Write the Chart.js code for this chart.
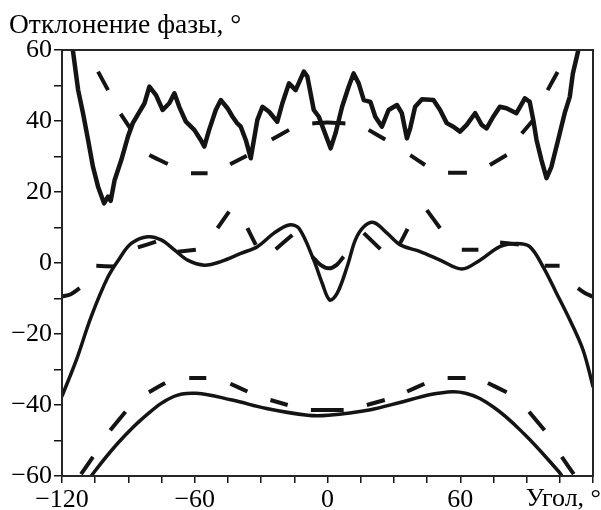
<!DOCTYPE html>
<html>
<head>
<meta charset="utf-8" />
<script src="https://cdn.jsdelivr.net/npm/chart.js@4/dist/chart.umd.min.js"></script>
<style>
  html, body { margin: 0; padding: 0; background: #fff; }
  #wrap { width: 601px; height: 510px; }
</style>
</head>
<body>
<div id="wrap"><canvas id="myChart"></canvas></div>

<script>
// axis ticks
const xTicks = [-120, -60, 0, 60];
const yTicks = [-60, -40, -20, 0, 20, 40, 60];

// upper noisy solid curve
const topSolidX = [-115.8, -115, -112.7, -110.5, -108.2, -106, -103.7, -101, -99.2, -98, -96.2, -93.2, -90.2, -88, -85, -82.7,
  -80.5, -77.5, -74.5, -71.5, -69.2, -67, -64, -60.2, -57.2, -55.7, -53.5, -50.5, -48.2, -45.2, -42.9, -41, -39.2, -36.9,
  -34.7, -31.7, -29.4, -26.4, -22.7, -20.4, -17.4, -14.4, -10.7, -9.1, -6.2, -3.9, -1.7, 1.4, 3.6, 6.6, 9.6, 11.8, 14.1,
  16.4, 19.4, 21.6, 24.6, 27.6, 31.4, 33.6, 35.9, 37.4, 39.6, 42.7, 47.9, 50.9, 53.9, 56.9, 59.9, 62.9, 66.7, 69.7, 71.9,
  74.9, 77.9, 80.9, 85.4, 89.2, 91.4, 93, 94.5, 96.7, 99, 101.2, 104.2, 107.2, 109.5, 110.9, 113.2, 113.8];
const topSolidY = [62, 59.5, 48.7, 42.2, 34.6, 27.1, 21.5, 16.8, 18.7, 17.5, 23.4, 29, 35.6, 39.4, 42.6, 45,
  49.7, 47.3, 43.1, 45, 47.8, 44, 39.8, 37.5, 34.6, 32.8, 37.5, 43.1, 45.9, 43.6, 41.2, 39.5, 38.4, 34.6,
  29.5, 40.3, 44, 42.6, 39.8, 45, 50.6, 48.7, 53.9, 52.5, 43.1, 41.2, 37.5, 32.3, 36.5, 44, 49.7, 53.4, 50.6,
  45.9, 45.4, 41.2, 38.4, 43.1, 44.5, 42.2, 35.1, 38, 44, 46.1, 45.9, 43.1, 39.4, 38.4, 37, 38.9, 42.2, 38.9, 37.9,
  41.2, 44, 43.6, 42.2, 46.4, 45.4, 40.3, 34.6, 29, 23.9, 27.1, 34.6, 42.2, 46.8, 53.4, 59.5, 62];

// middle solid curve
const midSolidX = [-120, -113.5, -106.8, -99.2, -94, -88.7, -81.2, -75.2, -69.2, -63.2, -55.7, -48.2, -39.2, -31.7, -24.2,
  -17.4, -12.9, -6.2, -2.4, 1, 4.4, 8.9, 12.6, 16.4, 20.9, 26.9, 32.9, 41.9, 50.9, 60.7, 68.9, 77.9, 85.5, 91.4, 97.4,
  103.5, 109.5, 115.5, 120];
const midSolidY = [-37.5, -27.3, -15.1, -3.9, 1.3, 5.5, 7.4, 6.5, 3.7, 0.8, -0.6, 0.4, 2.7, 4.6, 8.4,
  10.7, 9.8, 0.8, -5.7, -10.4, -8.5, -1, 6.5, 10.2, 11.4, 8.4, 5.1, 3.2, 0.8, -1.7, 0.8, 4.6, 5.5, 4.6, -1,
  -8.5, -16, -24.5, -34.8];

// lower solid curve
const lowSolidX = [-108.5, -106.8, -94.4, -82, -69.5, -59.4, -43.1, -27.6, -9, 0.3, 18.9, 34.5, 50, 62.4, 74.8, 88.8, 104.3, 105.9, 107.5];
const lowSolidY = [-62, -60, -50.5, -42.9, -37.6, -36.7, -38.6, -41, -42.9, -42.9, -41.4, -39, -36.7, -36.7, -40.5, -48.1, -58.6, -60, -62];

// dashed curves: only the visible dashes are read, null marks a gap between dashes
const topDashX = [-103.7, -99.2, null, -93.5, -88.7, null, -80.5, -76, -72.2, null, -61.7, -54.2, null, -44, -36.5, null,
  -25.2, -17.4, null, -6.9, 0, 8.1, null, 18.6, 26.1, null, 37.4, 44.1, null, 54.5, 63, null, 73.4, 81, null,
  87.8, 93, null, 99.5, 104];
const topDashY = [53.9, 48.7, null, 42, 37.5, null, 30.4, 29, 27.9, null, 25.3, 25.3, null, 27.8, 30.2, null,
  34.8, 37.5, null, 39.3, 39.6, 39.3, null, 37.5, 34.8, null, 30.4, 27.6, null, 25.4, 25.4, null, 27.6, 30.4, null,
  36.5, 40.3, null, 48.7, 53.8];

const midDashX = [-120.3, -116, -112, null, -104.5, -96.3, null, -85.7, -77.5, null, -67.7, -59.5, null, -49.7, -44.5, null,
  -36.2, -32.4, null, -23.4, -15.9, null, -6.9, -3, 0.6, 4, 7.3, null, 16.4, 23.9, null, 32.6, 36.2, null, 44.9, 50.9, null,
  60.7, 68.2, null, 78, 86.5, null, 98.2, 104.9, null, 113.2, 116.5, 120];
const midDashY = [-9.5, -8.8, -7.1, null, -0.8, -1, null, 4.4, 6, null, 3.2, 3.7, null, 9.8, 14.5, null,
  9.8, 5.1, null, 3.9, 7.9, null, 1.8, -0.6, -1.5, -0.6, 1.8, null, 8.4, 3.9, null, 5.3, 9.6, null, 14.9, 9.8, null,
  3.7, 3.7, null, 5.8, 5.2, null, -0.8, -0.8, null, -7.1, -8.5, -9.5];

const lowDashX = [-111.4, -106, null, -98.2, -91.3, null, -80.7, -73.4, null, -62.5, -54.8, null, -43.9, -36.2, null,
  -25.8, -18, null, -7.5, 0, 7.3, null, 17.8, 25.9, null, 36, 43.8, null, 54.3, 62.4, null, 72.5, 81, null,
  91.1, 98.1, null, 105.9, 111.3];
const lowDashY = [-59.5, -54.6, null, -47.1, -41.9, null, -36.4, -33.8, null, -32.4, -32.4, null, -34, -36.2, null,
  -38.6, -40, null, -41.4, -41.4, -41.4, null, -40, -38.6, null, -36.2, -34, null, -32.4, -32.4, null, -33.8, -36.4, null,
  -41.9, -47.1, null, -54.6, -59.5];

const yTitle = 'Отклонение фазы, °';
const xTitle = 'Угол, °';

const FONT = "'Liberation Serif', 'Times New Roman', serif";
const INK = '#141414';

function pts(xs, ys) {
  return xs.map((x, i) => ({x: x === null ? NaN : x, y: ys[i]}));
}

function solid(xs, ys, w, tension) {
  return {data: pts(xs, ys), borderColor: INK, borderWidth: w, tension: tension, pointRadius: 0, clip: 0,
    borderCapStyle: 'round', borderJoinStyle: 'round'};
}

function dashed(xs, ys) {
  return {data: pts(xs, ys), borderColor: INK, borderWidth: 4, tension: 0.3, pointRadius: 0, clip: 0,
    spanGaps: false, borderCapStyle: 'butt', borderJoinStyle: 'round'};
}

const minus = v => String(v).replace('-', '\u2212');

const frameAndText = {
  id: 'frame_and_text',
  afterDraw: (chart) => {
    const {ctx, chartArea} = chart;
    ctx.save();
    ctx.strokeStyle = '#262626';
    ctx.lineWidth = 2;
    ctx.strokeRect(chartArea.left, chartArea.top, chartArea.right - chartArea.left, chartArea.bottom - chartArea.top);

    ctx.fillStyle = '#000';
    ctx.font = '27.5px ' + FONT;
    ctx.textBaseline = 'alphabetic';
    ctx.textAlign = 'left';
    ctx.fillText(yTitle, 9, 33);

    ctx.font = '26px ' + FONT;
    ctx.textAlign = 'right';
    ctx.fillText(xTitle, 601, 506);
    ctx.restore();
  }
};

new Chart(document.getElementById('myChart'), {
  type: 'line',
  data: {
    datasets: [
      solid(topSolidX, topSolidY, 4.5, 0),
      solid(midSolidX, midSolidY, 3.5, 0.35),
      solid(lowSolidX, lowSolidY, 3.5, 0.4),
      dashed(topDashX, topDashY),
      dashed(midDashX, midDashY),
      dashed(lowDashX, lowDashY)
    ]
  },
  options: {
    responsive: true,
    maintainAspectRatio: false,
    animation: false,
    layout: {padding: {top: 50, right: 8, left: 0, bottom: 0}},
    plugins: {legend: {display: false}, tooltip: {enabled: false}},
    scales: {
      x: {
        type: 'linear', min: -120, max: 120,
        afterFit: (s) => { s.height = 34; },
        grid: {drawOnChartArea: false, drawTicks: true, tickLength: 7, color: INK, lineWidth: 1.5},
        border: {display: false},
        ticks: {
          stepSize: 15, autoSkip: false, maxRotation: 0, padding: 2, color: '#000',
          font: {family: FONT, size: 26},
          callback: (v) => xTicks.includes(v) ? minus(v) : ''
        }
      },
      y: {
        min: -60, max: 60,
        afterFit: (s) => { s.width = 62; },
        grid: {drawOnChartArea: false, drawTicks: true, tickLength: 8, color: INK, lineWidth: 1.5},
        border: {display: false},
        ticks: {
          stepSize: 10, autoSkip: false, padding: 2, color: '#000',
          font: {family: FONT, size: 26},
          callback: (v) => yTicks.includes(v) ? minus(v) : ''
        }
      }
    }
  },
  plugins: [frameAndText]
});
</script>
</body>
</html>
